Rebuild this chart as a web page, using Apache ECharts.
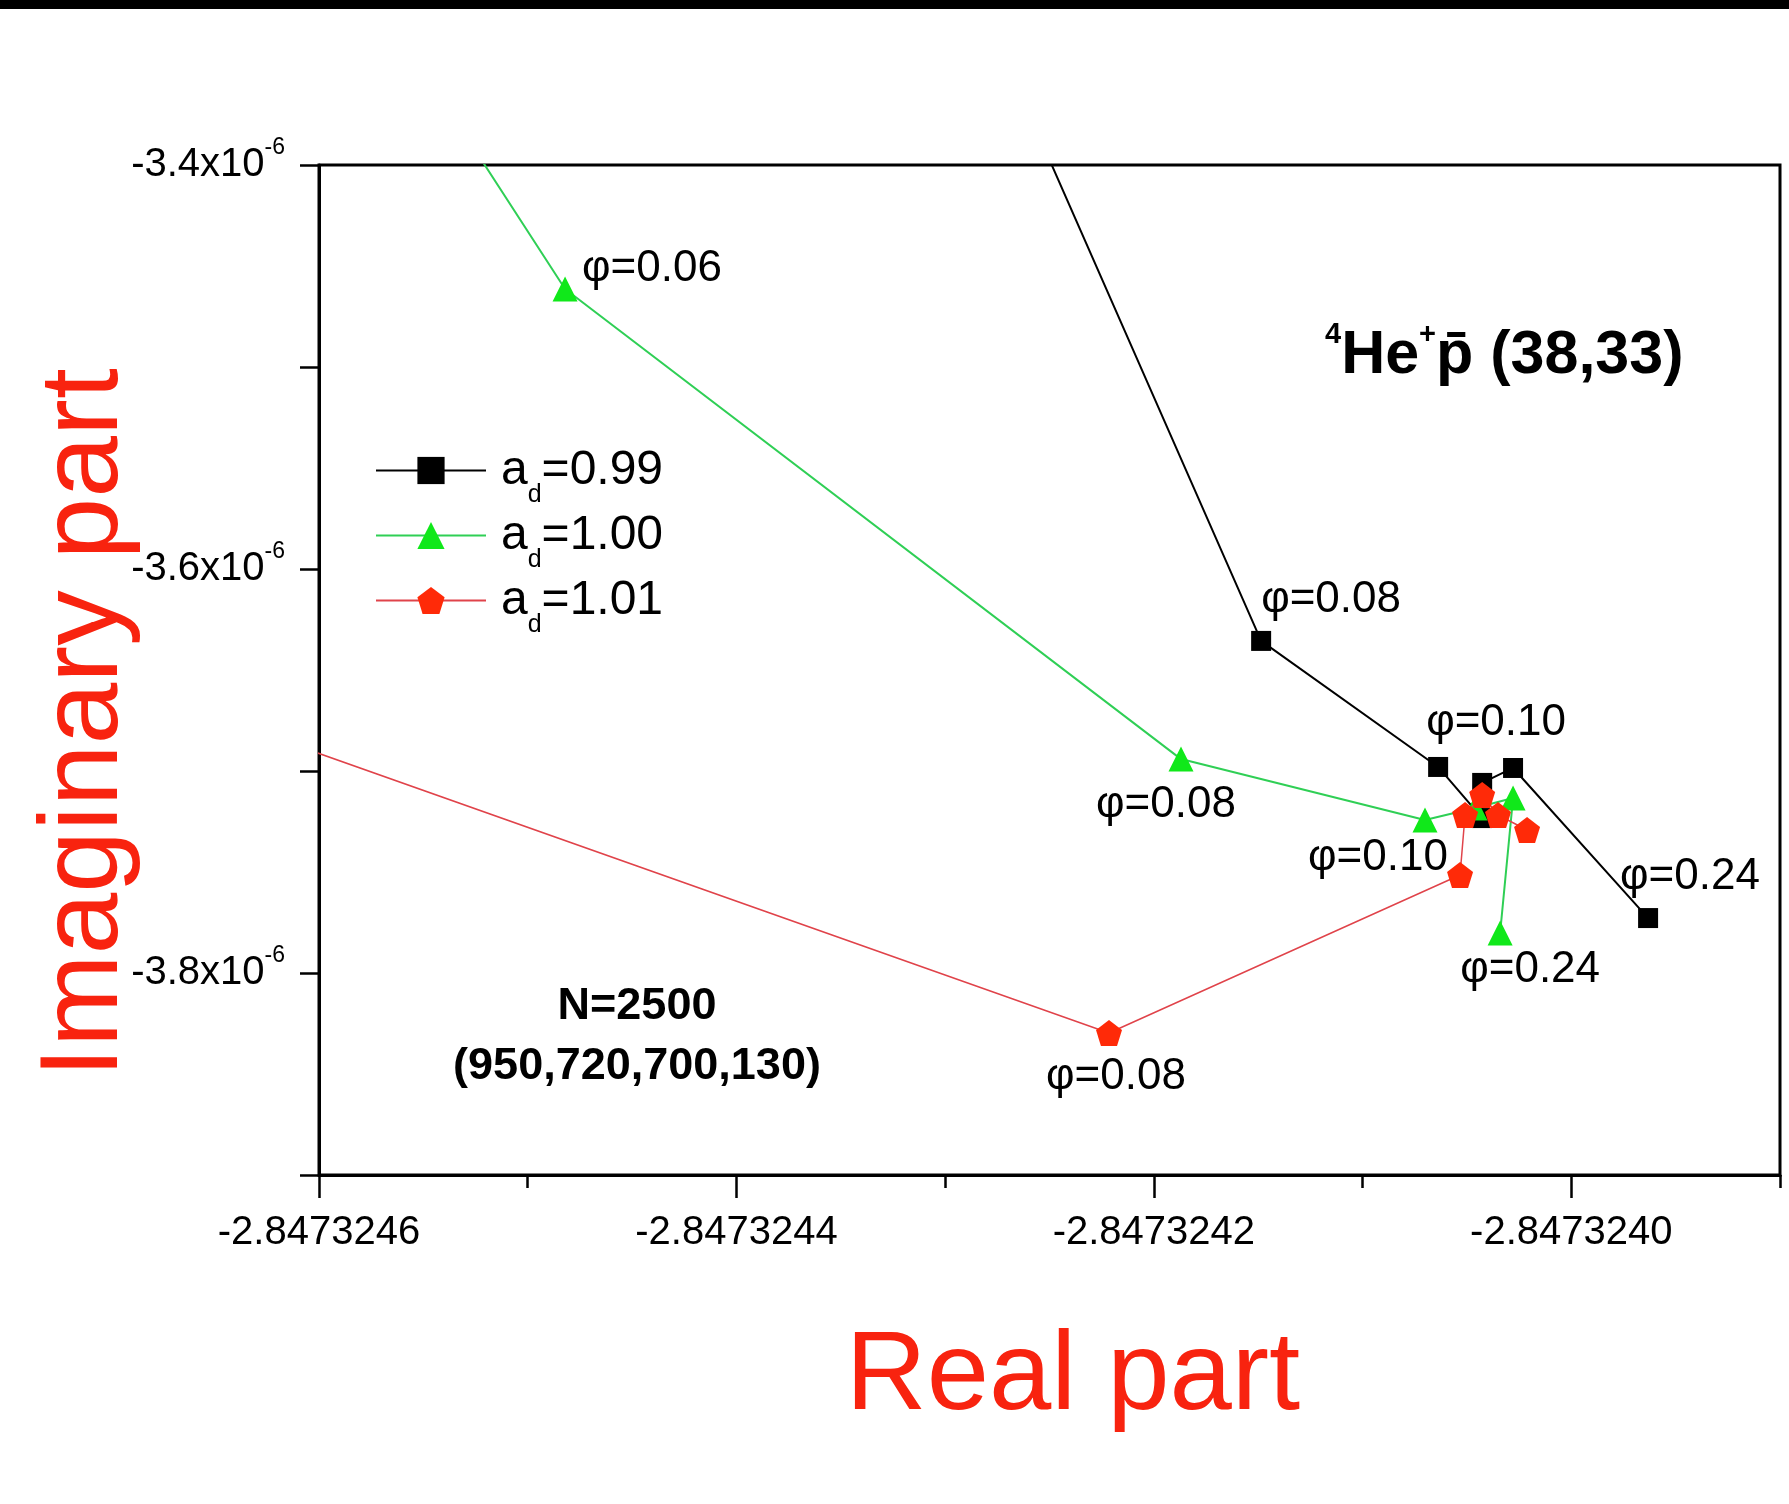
<!DOCTYPE html>
<html>
<head>
<meta charset="utf-8">
<script src="https://cdn.jsdelivr.net/npm/echarts@6/dist/echarts.min.js"></script>
<style>
  html, body { margin: 0; padding: 0; background: #fff; }
  #chart { width: 1789px; height: 1504px; }
</style>
</head>
<body>
<div id="chart"></div>
<script>
// Complex-rotation eigenvalue trajectories (real vs imaginary part) for 4He+ p̄ (38,33),
// one polyline per dilation parameter a_d, points ordered by increasing rotation angle φ.

const seriesNames = ['a_d=0.99', 'a_d=1.00', 'a_d=1.01'];

// a_d = 0.99
const realAd099 = [-2.8473242700, -2.8473241486, -2.8473240638, -2.8473240427, -2.8473240427, -2.8473240279, -2.8473239632];
const imagAd099 = [-3.3505e-6, -3.6356e-6, -3.6980e-6, -3.7233e-6, -3.7059e-6, -3.6985e-6, -3.7728e-6];
const phiAd099  = ['', '0.08', '0.10', '', '', '', '0.24'];

// a_d = 1.00
const realAd100 = [-2.8473245516, -2.8473244821, -2.8473241870, -2.8473240701, -2.8473240461, -2.8473240279, -2.8473240341];
const imagAd100 = [-3.3505e-6, -3.4614e-6, -3.6941e-6, -3.7243e-6, -3.7183e-6, -3.7134e-6, -3.7802e-6];
const phiAd100  = ['', '0.06', '0.08', '0.10', '', '', '0.24'];

// a_d = 1.01
const realAd101 = [-2.8473246479, -2.8473242215, -2.8473240533, -2.8473240509, -2.8473240427, -2.8473240351, -2.8473240212];
const imagAd101 = [-3.6738e-6, -3.8297e-6, -3.7515e-6, -3.7218e-6, -3.7119e-6, -3.7218e-6, -3.7292e-6];
const phiAd101  = ['', '0.08', '', '', '', '', ''];

// axis ranges and tick positions
const xRange = [-2.8473246, -2.8473239];
const yRange = [-3.9e-6, -3.4e-6];
const xMajorTicks = [-2.8473246, -2.8473244, -2.8473242, -2.8473240];
const xMinorTicks = [-2.8473245, -2.8473243, -2.8473241, -2.8473239];
const yTicks = [-3.9e-6, -3.8e-6, -3.7e-6, -3.6e-6, -3.5e-6, -3.4e-6];
const yLabelTicks = [-3.8e-6, -3.6e-6, -3.4e-6];

// ---- presentation ----
const FONT = '"Liberation Sans", Arial, Helvetica, sans-serif';
const RED_TITLE = '#f8230f';
const PENTAGON = 'path://M0,-10 L9.511,-3.09 L5.878,8.09 L-5.878,8.09 L-9.511,-3.09 Z';

// where each φ label sits relative to its marker: [align, dx, dy]
const labelPlacement = {
  0: { 1: ['left', 0, -41], 2: ['left', -12, -44], 6: ['left', -28, -41] },
  1: { 1: ['left', 17, -20], 2: ['center', -15, 46], 3: ['center', -47, 38], 6: ['center', 30, 37] },
  2: { 1: ['center', 7, 44] }
};

const seriesStyle = [
  { symbol: 'rect', size: 20, marker: '#000000', line: '#000000', width: 2 },
  { symbol: 'triangle', size: 25, marker: '#10e81a', line: '#2fcf55', width: 2 },
  { symbol: PENTAGON, size: 26, marker: '#ff2a08', line: '#e0434a', width: 1.5 }
];

function buildData(xs, ys, phis, sIdx) {
  return xs.map((x, i) => {
    const item = { value: [x, ys[i]] };
    const place = labelPlacement[sIdx][i];
    if (phis[i] && place) {
      item.label = {
        show: true,
        position: 'inside',
        formatter: 'φ=' + phis[i],
        align: place[0],
        verticalAlign: 'middle',
        offset: [place[1], place[2]],
        fontSize: 44,
        fontFamily: FONT,
        color: '#000'
      };
    }
    return item;
  });
}

const allX = [realAd099, realAd100, realAd101];
const allY = [imagAd099, imagAd100, imagAd101];
const allPhi = [phiAd099, phiAd100, phiAd101];

const series = seriesNames.map((name, s) => ({
  type: 'line',
  name: name,
  xAxisIndex: 0,
  yAxisIndex: 0,
  clip: true,
  symbol: seriesStyle[s].symbol,
  symbolSize: seriesStyle[s].size,
  showAllSymbol: true,
  lineStyle: { color: seriesStyle[s].line, width: seriesStyle[s].width },
  itemStyle: { color: seriesStyle[s].marker, borderWidth: 0 },
  label: { show: false },
  emphasis: { disabled: true },
  z: 2 + s,
  data: buildData(allX[s], allY[s], allPhi[s], s)
}));

const chart = echarts.init(document.getElementById('chart'), null, { renderer: 'canvas' });

chart.setOption({
  animation: false,
  backgroundColor: '#ffffff',
  textStyle: { fontFamily: FONT },
  grid: {
    left: 319, top: 165, width: 1461, height: 1010,
    show: true, borderColor: '#000', borderWidth: 3, backgroundColor: 'transparent',
    containLabel: false, outerBoundsMode: 'none'
  },
  legend: {
    orient: 'vertical',
    left: 370,
    top: 428,
    itemWidth: 110,
    itemHeight: 34,
    itemGap: -10,
    selectedMode: false,
    data: seriesNames,
    formatter: name => '{a|a}{s|d}{a|=' + name.split('=')[1] + '}',
    textStyle: {
      color: '#000',
      fontFamily: FONT,
      fontSize: 48,
      padding: [0, 0, 0, 10],
      rich: {
        a: { fontSize: 48, lineHeight: 50, fontFamily: FONT, color: '#000' },
        s: { fontSize: 25, lineHeight: 50, padding: [50, 0, 0, 0], fontFamily: FONT, color: '#000' }
      }
    }
  },
  xAxis: [
    {
      type: 'value',
      min: xRange[0], max: xRange[1],
      position: 'bottom',
      name: 'Real part',
      nameLocation: 'middle',
      nameGap: 147,
      nameMoveOverlap: false,
      nameTextStyle: { fontSize: 112, color: RED_TITLE, fontFamily: FONT, padding: [0, 0, 0, 47] },
      axisLine: { show: true, onZero: false, lineStyle: { color: '#000', width: 3 } },
      axisTick: { show: true, customValues: xMajorTicks, length: 23, lineStyle: { color: '#000', width: 2.5 } },
      axisLabel: {
        show: true, customValues: xMajorTicks, margin: 38,
        fontSize: 40, color: '#000', fontFamily: FONT,
        formatter: v => v.toFixed(7)
      },
      splitLine: { show: false }
    },
    {
      type: 'value',
      min: xRange[0], max: xRange[1],
      position: 'bottom',
      axisLine: { show: false },
      axisTick: { show: true, customValues: xMinorTicks, length: 13, lineStyle: { color: '#000', width: 2.5 } },
      axisLabel: { show: false },
      splitLine: { show: false }
    }
  ],
  yAxis: {
    type: 'value',
    min: yRange[0], max: yRange[1],
    name: 'Imaginary part',
    nameLocation: 'middle',
    nameGap: 177,
    nameMoveOverlap: false,
    nameTextStyle: { fontSize: 111, color: RED_TITLE, fontFamily: FONT, padding: [0, 106, 0, 0] },
    axisLine: { show: true, onZero: false, lineStyle: { color: '#000', width: 3 } },
    axisTick: { show: true, customValues: yTicks, length: 19, lineStyle: { color: '#000', width: 2.5 } },
    axisLabel: {
      show: true, customValues: yLabelTicks, margin: 34,
      fontFamily: FONT, color: '#000',
      formatter: v => '{m|' + (v * 1e6).toFixed(1) + 'x10}{e|-6}',
      rich: {
        m: { fontSize: 40, lineHeight: 46, fontFamily: FONT, color: '#000' },
        e: { fontSize: 23, lineHeight: 46, padding: [0, 0, 34, 0], fontFamily: FONT, color: '#000' }
      }
    },
    splitLine: { show: false }
  },
  graphic: [
    { type: 'rect', left: 0, top: 0, shape: { width: 1789, height: 9 }, style: { fill: '#000' }, silent: true },
    {
      type: 'text', x: 1325, y: 356, silent: true,
      style: {
        text: '{sup|4}{b|He}{sup|+}{b|p\u0304 (38,33)}',
        verticalAlign: 'middle',
        rich: {
          b: { fontSize: 61, fontWeight: 'bold', fontFamily: FONT, fill: '#000', lineHeight: 70 },
          sup: { fontSize: 29, fontWeight: 'bold', fontFamily: FONT, fill: '#000', lineHeight: 70, padding: [0, 0, 42, 0] }
        }
      }
    },
    {
      type: 'text', x: 637, y: 1037, silent: true,
      style: {
        text: 'N=2500\n(950,720,700,130)',
        align: 'center', verticalAlign: 'middle',
        font: 'bold 45px ' + FONT, fill: '#000', lineHeight: 60
      }
    }
  ],
  series: series
});
</script>
</body>
</html>
